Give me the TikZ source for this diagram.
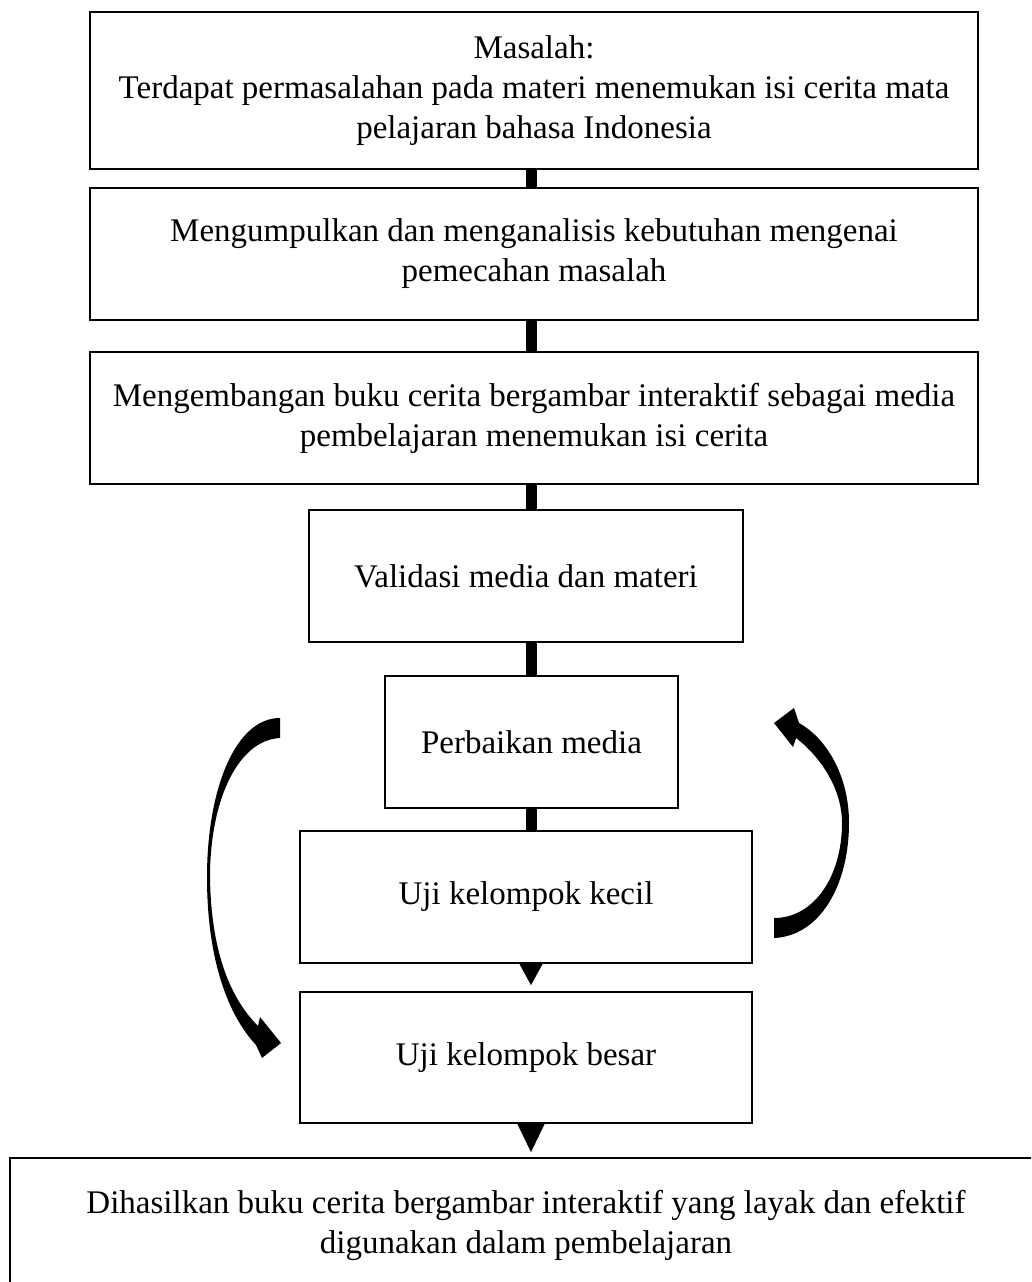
\documentclass[tikz,border=0pt]{standalone}
\usepackage{fontspec}
\setmainfont{Liberation Serif}
\usetikzlibrary{arrows.meta}
\tikzset{
  box/.style={draw=black, line width=1.6pt, inner sep=0pt, outer sep=0pt,
    align=center, font=\fontsize{33}{40}\selectfont},
  conn/.style={draw=black, line width=11pt},
  tri/.style={draw=black, line width=0.4pt,
    -{Triangle[width=#1pt,length=22pt]}, shorten >=7pt},
  tribig/.style={draw=black, line width=0.4pt,
    -{Triangle[width=28pt,length=29pt]}, shorten >=6pt},
  curvearrow/.style={fill=black},
}
\begin{document}
\begin{tikzpicture}[x=1pt,y=-1pt]
\useasboundingbox (0,0) rectangle (1031,1282);
\clip (0,0) rectangle (1031,1282);
\fill[white] (0,0) rectangle (1031,1282);
\coordinate (spine) at (531,0);

\node[box, minimum width=888pt, minimum height=157pt] (b1) at (534,90.5)
  {Masalah:\\Terdapat permasalahan pada materi menemukan isi cerita mata\\pelajaran bahasa Indonesia};
\node[box, minimum width=888pt, minimum height=132pt] (b2) at (534,254)
  {Mengumpulkan dan menganalisis kebutuhan mengenai\\pemecahan masalah};
\node[box, minimum width=888pt, minimum height=132pt] (b3) at (534,418)
  {Mengembangan buku cerita bergambar interaktif sebagai media\\pembelajaran menemukan isi cerita};
\node[box, minimum width=434pt, minimum height=132pt] (b4) at (526,576)
  {Validasi media dan materi};
\node[box, minimum width=293pt, minimum height=132pt] (b5) at (531.5,742)
  {Perbaikan media};
\node[box, minimum width=452pt, minimum height=132pt] (b6) at (526,897)
  {Uji kelompok kecil};
\node[box, minimum width=452pt, minimum height=131pt] (b7) at (526,1057.5)
  {Uji kelompok besar};
\node[box, minimum width=1032pt, minimum height=134pt] (b8) at (526,1225)
  {Dihasilkan buku cerita bergambar interaktif yang layak dan efektif\\digunakan dalam pembelajaran};

% thick straight connectors
\draw[conn] (b1.south -| spine) -- (b2.north -| spine);
\draw[conn] (b2.south -| spine) -- (b3.north -| spine);
\draw[conn] (b3.south -| spine) -- (b4.north -| spine);
\draw[conn] (b4.south -| spine) -- (b5.north -| spine);
\draw[conn] (b5.south -| spine) -- (b6.north -| spine);

% triangle connectors
\draw[tri=24] (b6.south -| spine) -- (b7.north -| spine);
\draw[tribig] (b7.south -| spine) -- (b8.north -| spine);

% left curved arrow (down, towards Uji kelompok besar)
\fill[curvearrow] (280,718) .. controls (235,718) and (207,790) .. (207,877)
  .. controls (207,960) and (228,1015) .. (256,1045)
  -- (262,1058) -- (281,1043) -- (260,1017) -- (258,1026)
  .. controls (232,1000) and (211,955) .. (210,877)
  .. controls (210,800) and (238,740) .. (280,738) -- cycle;

% right curved arrow (up, towards Perbaikan media)
\fill[curvearrow] (774,938) .. controls (820,936) and (849,885) .. (849,823)
  .. controls (849,775) and (826,738) .. (799,723)
  -- (794,708) -- (774,723) -- (793,747) -- (796,738)
  .. controls (822,758) and (842,790) .. (842,823)
  .. controls (842,875) and (815,918) .. (774,918) -- cycle;
\end{tikzpicture}
\end{document}
